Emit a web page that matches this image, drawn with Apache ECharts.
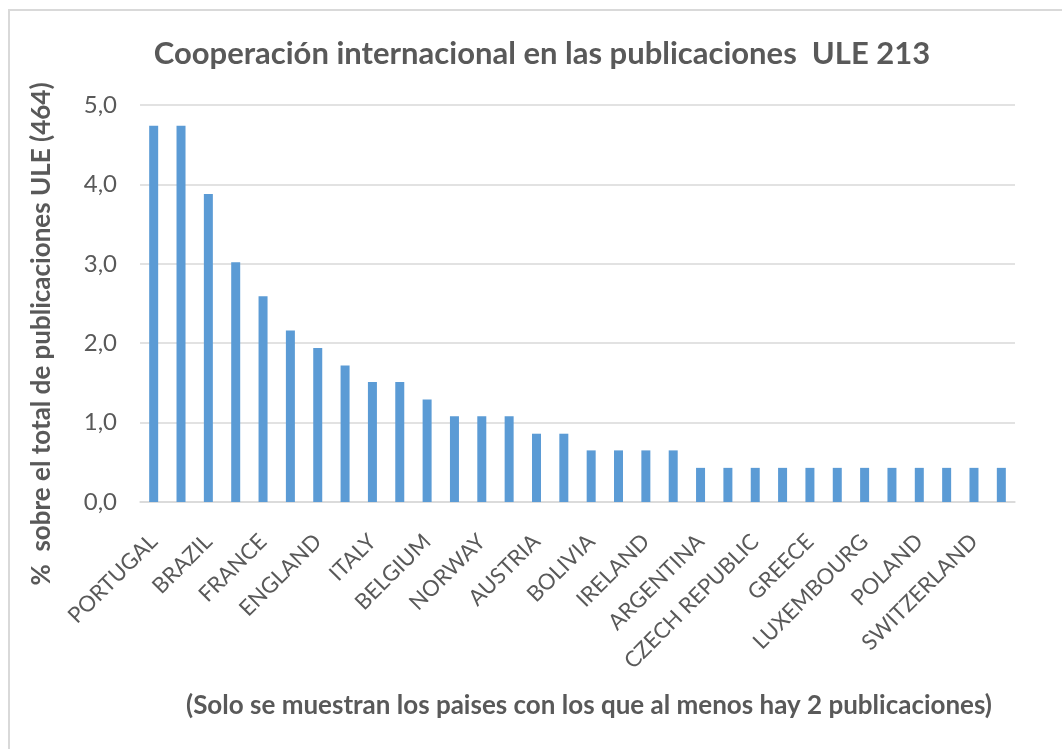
<!DOCTYPE html>
<html>
<head>
<meta charset="utf-8">
<script src="https://cdn.jsdelivr.net/npm/echarts@6/dist/echarts.min.js"></script>
<style>
  html, body { margin: 0; padding: 0; background: #fff; }
  #chart { width: 1062px; height: 749px; }
</style>
</head>
<body>
<div id="chart"></div>
<script>
// countries, every other name is shown on the axis
const countries = [
  'PORTUGAL', 'USA', 'BRAZIL', 'MEXICO', 'FRANCE', 'GERMANY', 'ENGLAND', 'NETHERLANDS',
  'ITALY', 'CANADA', 'BELGIUM', 'DENMARK', 'NORWAY', 'SCOTLAND', 'AUSTRIA', 'CHILE',
  'BOLIVIA', 'COLOMBIA', 'IRELAND', 'SWEDEN', 'ARGENTINA', 'CUBA', 'CZECH REPUBLIC', 'FINLAND',
  'GREECE', 'JAPAN', 'LUXEMBOURG', 'PERU', 'POLAND', 'SLOVENIA', 'SWITZERLAND', 'WALES'
];
// % over total ULE publications (464)
const pct = [
  4.74, 4.74, 3.88, 3.02, 2.59, 2.16, 1.94, 1.72,
  1.51, 1.51, 1.29, 1.08, 1.08, 1.08, 0.86, 0.86,
  0.65, 0.65, 0.65, 0.65, 0.43, 0.43, 0.43, 0.43,
  0.43, 0.43, 0.43, 0.43, 0.43, 0.43, 0.43, 0.43
];
const yTicks = [0, 1, 2, 3, 4, 5];

const chartDom = document.getElementById('chart');
const myChart = echarts.init(chartDom);
const font = 'Lato, "Open Sans", sans-serif';

const option = {
  animation: false,
  textStyle: { fontFamily: font },
  title: {
    text: 'Cooperación internacional en las publicaciones  ULE 213',
    left: 537,
    textAlign: 'center',
    top: 33,
    textStyle: { fontFamily: font, fontSize: 31, fontWeight: 'bold', color: '#595959' }
  },
  graphic: [
    {
      type: 'rect',
      shape: { x: 9, y: 10, width: 1100, height: 800 },
      style: { fill: 'none', stroke: '#d9d9d9', lineWidth: 2 },
      silent: true
    },
    {
      // y axis title, placed like the original (a bit below the plot centre)
      type: 'text',
      x: 42,
      y: 334,
      rotation: Math.PI / 2,
      style: {
        text: '%  sobre el total de publicaciones ULE (464)',
        font: 'bold 26px ' + font,
        fill: '#595959',
        textAlign: 'center',
        textVerticalAlign: 'middle'
      }
    },
    {
      type: 'text',
      x: 589,
      y: 706,
      style: {
        text: '(Solo se muestran los paises con los que al menos hay 2 publicaciones)',
        font: 'bold 26px ' + font,
        fill: '#595959',
        textAlign: 'center',
        textVerticalAlign: 'middle'
      }
    }
  ],
  grid: { left: 140, right: 47, top: 105, bottom: 247 },
  xAxis: {
    type: 'category',
    data: countries,
    axisLine: { lineStyle: { color: '#d9d9d9', width: 1.5 } },
    axisTick: { show: false },
    axisLabel: {
      interval: 1,
      rotate: 45,
      margin: 36,
      fontSize: 22,
      color: '#595959',
      fontFamily: font
    }
  },
  yAxis: {
    type: 'value',
    min: yTicks[0],
    max: yTicks[yTicks.length - 1],
    interval: 1,
    axisLine: { show: false },
    axisTick: { show: false },
    splitLine: { lineStyle: { color: '#d9d9d9', width: 1.5 } },
    axisLabel: {
      fontSize: 24,
      color: '#595959',
      margin: 23,
      fontFamily: font,
      formatter: v => v.toFixed(1).replace('.', ',')
    }
  },
  series: [
    {
      type: 'bar',
      data: pct,
      barWidth: 9,
      itemStyle: { color: '#5b9bd5' }
    }
  ]
};

myChart.setOption(option);
</script>
</body>
</html>
